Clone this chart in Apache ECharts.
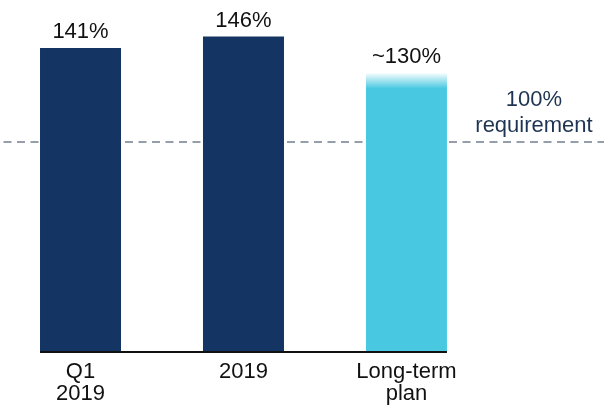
<!DOCTYPE html>
<html style="height: 100%">
<head>
<meta charset="utf-8">
<script src="https://cdn.jsdelivr.net/npm/echarts@6/dist/echarts.min.js"></script>
</head>
<body style="height: 100%; margin: 0; background-color: #ffffff">
<div id="container" style="width: 604px; height: 406px"></div>
<script type="text/javascript">
// data
var categories = ['Q1\n2019', '2019', 'Long-term\nplan'];
var values = [141, 146, 130];
var valueLabels = ['141%', '146%', '~130%'];
var requirement = 100;
var requirementLabel = '100%\nrequirement';

var navy = '#143563';
var cyan = '#49c9e1';
var font = 'Liberation Sans';

var barPx = 81;     // bar width in pixels
var stepPx = 163;   // distance between bar centres
var half = barPx / stepPx / 2;

var barData = values.map(function (v, i) {
    var item = { value: [i, v] };
    if (i === 2) {
        item.itemStyle = {
            color: new echarts.graphic.LinearGradient(0, 0, 0, 1, [
                { offset: 0, color: 'rgba(73,201,225,0.05)' },
                { offset: 0.055, color: cyan },
                { offset: 1, color: cyan }
            ])
        };
    }
    return item;
});

var chart = echarts.init(document.getElementById('container'));
var option = {
    animation: false,
    grid: { left: 0, right: 0, top: 0, bottom: 54 },
    xAxis: {
        type: 'value',
        min: -0.494,
        max: 3.212,
        splitLine: { show: false },
        axisLine: { show: false },
        axisTick: { show: false },
        axisLabel: {
            customValues: [0, 1, 2],
            formatter: function (v) { return categories[Math.round(v)]; },
            color: '#111',
            fontFamily: font,
            fontSize: 22,
            lineHeight: 22,
            margin: 9,
            verticalAlign: 'top'
        }
    },
    yAxis: {
        type: 'value',
        min: 8,
        max: 162,
        show: false
    },
    series: [
        {
            // requirement line, kept behind the bars
            type: 'line',
            z: 1,
            data: [],
            markLine: {
                silent: true,
                z: 1,
                symbol: 'none',
                data: [{
                    yAxis: requirement,
                    lineStyle: { color: '#959fac', width: 2, type: [8, 5.5], dashOffset: 10 },
                    label: {
                        show: true,
                        position: 'insideEndTop',
                        formatter: requirementLabel,
                        color: '#1e3452',
                        fontFamily: font,
                        fontSize: 22,
                        lineHeight: 26,
                        align: 'center',
                        distance: [6, 3],
                        offset: [-64, 0]
                    }
                }]
            }
        },
        {
            type: 'bar',
            z: 2,
            barWidth: barPx,
            data: barData,
            itemStyle: { color: navy },
            label: {
                show: true,
                position: 'top',
                distance: 5,
                color: '#111',
                fontFamily: font,
                fontSize: 22,
                formatter: function (p) { return valueLabels[p.dataIndex]; }
            },
            markLine: {
                silent: true,
                symbol: 'none',
                data: [[
                    { coord: [-half, 8], lineStyle: { color: '#111', width: 2, type: 'solid' }, label: { show: false } },
                    { coord: [values.length - 1 + half, 8] }
                ]]
            }
        }
    ]
};
chart.setOption(option);
</script>
</body>
</html>
